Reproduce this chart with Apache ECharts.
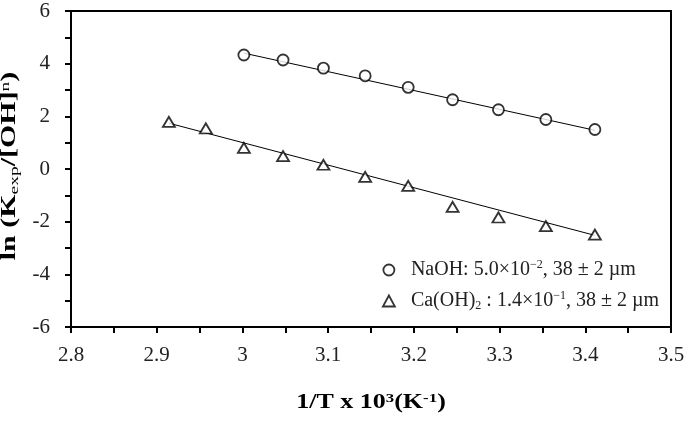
<!DOCTYPE html>
<html>
<head>
<meta charset="utf-8">
<script src="https://cdn.jsdelivr.net/npm/echarts@6/dist/echarts.min.js"></script>
<style>
  html, body { margin: 0; padding: 0; background: #fff; }
  #main { width: 685px; height: 425px; }
</style>
</head>
<body>
<div id="main"></div>
<script>
// 1/T x 10^3 values (K^-1) and ln(Kexp/[OH]^n)
var naohX = [3.0017, 3.0474, 3.0945, 3.1432, 3.1934, 3.2452, 3.2987, 3.3540, 3.4112];
var naohY = [4.33, 4.14, 3.83, 3.54, 3.10, 2.63, 2.25, 1.88, 1.50];
var caX = [2.9142, 2.9573, 3.0017, 3.0474, 3.0945, 3.1432, 3.1934, 3.2452, 3.2987, 3.3540, 3.4112];
var caY = [1.79, 1.54, 0.80, 0.49, 0.16, -0.30, -0.64, -1.44, -1.84, -2.17, -2.49];

// fitted straight lines, ends
var naohFitX = [3.0017, 3.4112];
var naohFitY = [4.40, 1.47];
var caFitX = [2.9142, 3.4112];
var caFitY = [1.74, -2.52];

var xTicks = [2.8, 2.9, 3, 3.1, 3.2, 3.3, 3.4, 3.5];
var yTicks = [-6, -4, -2, 0, 2, 4, 6];

var serif = '"Liberation Serif", "Times New Roman", serif';

function pairs(xs, ys) {
  return xs.map(function (x, i) { return [x, ys[i]]; });
}

var markStyle = { color: '#fff', borderColor: '#000', borderWidth: 1.8 };

// bold title text with small sub/superscripts
var nameRich = {
  b: { fontFamily: serif, fontSize: 20, fontWeight: 'bold', color: '#111', lineHeight: 22 },
  sub: { fontFamily: serif, fontSize: 13, color: '#111', lineHeight: 13, verticalAlign: 'bottom' },
  sup: { fontFamily: serif, fontSize: 13, color: '#111', lineHeight: 13, verticalAlign: 'top' },
  bsup: { fontFamily: serif, fontSize: 13, fontWeight: 'bold', color: '#111', lineHeight: 13, verticalAlign: 'top' }
};

var myChart = echarts.init(document.getElementById('main'));
myChart.setOption({
  backgroundColor: '#fff',
  animation: false,
  grid: {
    left: 71, right: 14, top: 11, bottom: 98,
    containLabel: false,
    outerBoundsMode: 'none',
    show: true, borderColor: '#000', borderWidth: 2
  },
  // axis titles are stretched like in the source picture
  graphic: [
    {
      type: 'text',
      x: 371,
      y: 403,
      scaleX: 1.3,
      style: {
        text: '{b|1/T x 10}{bsup|3}{b|(K}{bsup|-1}{b|)}',
        rich: nameRich,
        align: 'center', verticalAlign: 'middle',
        textAlign: 'center', textVerticalAlign: 'middle'
      }
    },
    {
      type: 'text',
      x: 10,
      y: 166,
      rotation: Math.PI / 2,
      scaleX: 1.5,
      style: {
        text: '{b|ln (K}{sub|exp}{b|/[OH]}{sup|n}{b|)}',
        rich: nameRich,
        align: 'center', verticalAlign: 'middle',
        textAlign: 'center', textVerticalAlign: 'middle'
      }
    }
  ],
  legend: {
    orient: 'vertical',
    left: 377,
    top: 254,
    itemWidth: 12,
    itemHeight: 11,
    itemGap: 10,
    selectedMode: false,
    data: [
      { name: 'NaOH', icon: 'circle', itemStyle: markStyle },
      { name: 'Ca(OH)2', icon: 'triangle', itemStyle: markStyle }
    ],
    formatter: function (name) {
      if (name === 'NaOH') {
        return '{t|NaOH: 5.0×10}{sup|−2}{t|, 38 ± 2 µm}';
      }
      return '{t|Ca(OH)}{sub|2}{t| : 1.4×10}{sup|−1}{t|, 38 ± 2 µm}';
    },
    textStyle: {
      fontFamily: serif,
      fontSize: 20,
      color: '#222',
      padding: [0, 0, 0, 11],
      rich: {
        t: { fontFamily: serif, fontSize: 20, color: '#222', lineHeight: 22 },
        sup: { fontFamily: serif, fontSize: 12, color: '#222', lineHeight: 12, verticalAlign: 'top' },
        sub: { fontFamily: serif, fontSize: 12, color: '#222', lineHeight: 12, verticalAlign: 'bottom' }
      }
    }
  },
  xAxis: {
    type: 'value',
    min: 2.8,
    max: 3.5,
    interval: 0.1,
    axisLine: { onZero: false, lineStyle: { color: '#000', width: 2 } },
    axisTick: { length: 6, lineStyle: { color: '#000', width: 2 } },
    minorTick: { show: true, splitNumber: 2, length: 6, lineStyle: { color: '#000', width: 2 } },
    splitLine: { show: false },
    axisLabel: {
      margin: 18,
      fontFamily: serif,
      fontSize: 21,
      color: '#222',
      formatter: function (v) {
        var hit = xTicks.filter(function (t) { return Math.abs(t - v) < 1e-6; });
        return hit.length ? String(hit[0]) : '';
      }
    }
  },
  yAxis: {
    type: 'value',
    min: -6,
    max: 6,
    interval: 2,
    axisLine: { onZero: false, lineStyle: { color: '#000', width: 2 } },
    axisTick: { length: 6, lineStyle: { color: '#000', width: 2 } },
    minorTick: { show: true, splitNumber: 2, length: 6, lineStyle: { color: '#000', width: 2 } },
    splitLine: { show: false },
    axisLabel: {
      margin: 21,
      fontFamily: serif,
      fontSize: 21,
      color: '#222',
      formatter: function (v) {
        return yTicks.indexOf(v) >= 0 ? String(v) : '';
      }
    }
  },
  series: [
    {
      name: 'NaOH fit',
      type: 'line',
      data: pairs(naohFitX, naohFitY),
      symbol: 'none',
      lineStyle: { color: '#000', width: 1 },
      z: 1
    },
    {
      name: 'Ca(OH)2 fit',
      type: 'line',
      data: pairs(caFitX, caFitY),
      symbol: 'none',
      lineStyle: { color: '#000', width: 1 },
      z: 1
    },
    {
      name: 'NaOH',
      type: 'scatter',
      data: pairs(naohX, naohY),
      symbol: 'circle',
      symbolSize: 11,
      itemStyle: markStyle,
      z: 3
    },
    {
      name: 'Ca(OH)2',
      type: 'scatter',
      data: pairs(caX, caY),
      symbol: 'triangle',
      symbolSize: [12, 10],
      itemStyle: markStyle,
      z: 3
    }
  ]
});
</script>
</body>
</html>
